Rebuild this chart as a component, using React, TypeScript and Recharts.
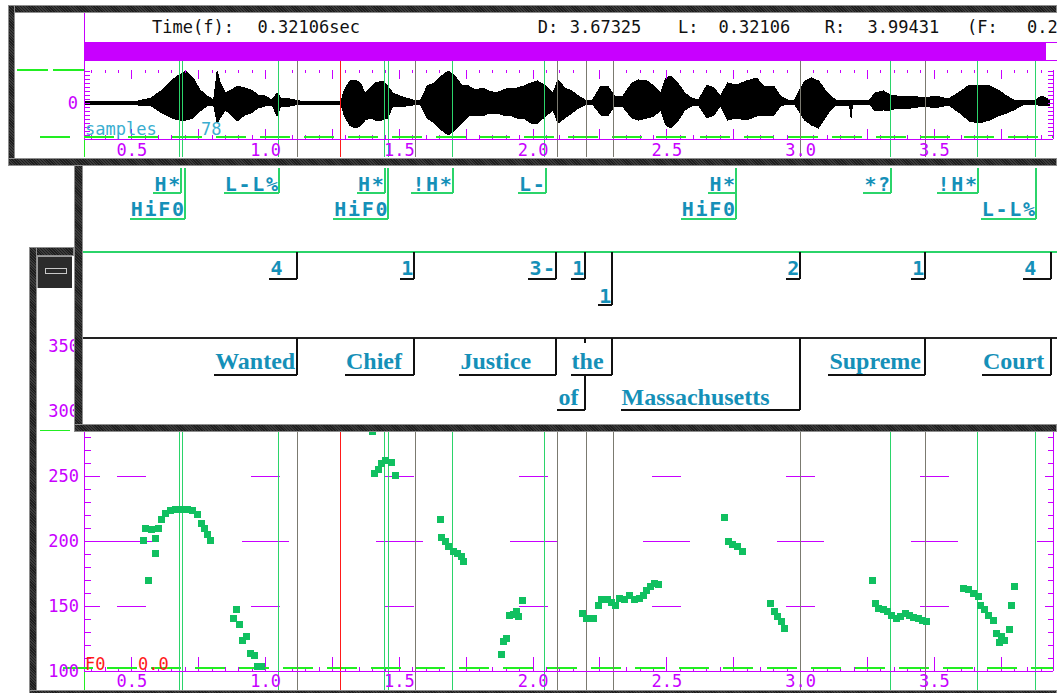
import {
  Area,
  ComposedChart,
  ReferenceLine,
  Scatter,
  ScatterChart,
  XAxis,
  YAxis,
} from 'recharts';

const MONO = "'DejaVu Sans Mono', 'Liberation Mono', monospace";
const SERIF = "'Liberation Serif', 'DejaVu Serif', serif";
const MAGENTA = '#c800ff';
const MARK_GREEN = '#2bd46a';
const DASH_GREEN = '#22ee22';
const GREY = '#7b7a70';
const RED = '#ff1a1a';
const TEAL = '#1590b8';
const DOT_GREEN = '#10c060';
const FRAME = '#2b2b2b';

// shared time window (all three panels use the same pixel mapping)
const W = 1057;
const PLOT_L = 84;
const PLOT_R = 1053;
const PX_PER_S = 267.5;
const T_LEFT = 0.32106;
const T_RIGHT = T_LEFT + (PLOT_R - PLOT_L) / PX_PER_S;
const px = (n: number) => n / PX_PER_S;

const F0_AXIS_Y = 671.2;
const F0_PX_PER_HZ = 1.3;
const F0_TOP = 400;
const F0_LINE_END = 100 - (690 - F0_AXIS_Y) / F0_PX_PER_HZ;
const hz = (n: number) => n / F0_PX_PER_HZ;

const range = (from: number, to: number, step: number) => {
  const out: number[] = [];
  for (let v = from; v <= to + 1e-9; v += step) out.push(+v.toFixed(3));
  return out;
};

// axis ticks
const timeTicks = [0.5, 1.0, 1.5, 2.0, 2.5, 3.0, 3.5];
const minorTimeTicks = range(0.35, 3.9, 0.05);
const majorTimeTicks = range(0.5, 3.75, 0.25);
const f0Ticks = [100, 150, 200, 250, 300, 350];
const f0Minor = range(100, 400, 10);
const f0Fifty = range(100, 400, 50);
const f0Hundred = [100, 200, 300, 400];
const f0GridRows = [150, 200, 250, 300, 350];
const ampTicks = range(-32, 32, 4);

// waveform envelope (upper / lower excursion)
const waveTimes = [
  0.321, 0.523, 0.572, 0.613, 0.65, 0.676, 0.703, 0.729, 0.755, 0.781,
  0.806, 0.819, 0.83, 0.85, 0.871, 0.896, 0.921, 0.946, 0.972, 0.998,
  1.024, 1.043, 1.057, 1.092, 1.129, 1.282, 1.294, 1.314, 1.334, 1.354,
  1.372, 1.391, 1.41, 1.436, 1.456, 1.476, 1.501, 1.526, 1.552, 1.578,
  1.604, 1.63, 1.657, 1.682, 1.707, 1.733, 1.759, 1.784, 1.81, 1.836,
  1.862, 1.888, 1.913, 1.939, 1.965, 1.991, 2.016, 2.048, 2.074, 2.093,
  2.119, 2.145, 2.17, 2.195, 2.222, 2.253, 2.279, 2.304, 2.336, 2.369,
  2.394, 2.426, 2.452, 2.477, 2.496, 2.516, 2.541, 2.567, 2.592, 2.618,
  2.65, 2.676, 2.7, 2.727, 2.76, 2.798, 2.836, 2.861, 2.9, 2.925,
  2.951, 2.977, 3.015, 3.041, 3.067, 3.092, 3.112, 3.131, 3.183, 3.189,
  3.194, 3.258, 3.278, 3.31, 3.336, 3.361, 3.413, 3.463, 3.502, 3.553,
  3.605, 3.63, 3.669, 3.707, 3.739, 3.77, 3.797, 3.836, 3.874, 3.9,
  3.932,
];
const waveHigh = [
  2, 2, 5, 13, 23, 28, 32, 25, 13, 7,
  3, 32, 20, 10, 13, 17, 15, 13, 8, 7,
  3, 10, 5, 4, 2, 2, 13, 22, 23, 20,
  10, 15, 20, 22, 17, 10, 7, 5, 3, 2,
  17, 20, 27, 32, 27, 18, 17, 13, 15, 12,
  10, 13, 15, 15, 17, 20, 22, 17, 10, 23,
  15, 12, 7, 3, 3, 17, 17, 7, 7, 20,
  23, 22, 17, 10, 25, 27, 20, 10, 5, 3,
  18, 15, 7, 20, 18, 22, 25, 17, 17, 7,
  3, 3, 22, 25, 22, 13, 7, 3, 3, 3,
  3, 3, 10, 12, 8, 7, 7, 5, 7, 4,
  13, 18, 18, 17, 13, 7, 3, 3, 2, 7,
  3,
];
const waveLow = [
  -1, -2, -3, -10, -15, -17, -17, -15, -8, -3,
  -2, -20, -15, -7, -12, -18, -12, -10, -5, -3,
  -2, -13, -3, -3, -1, -1, -13, -22, -25, -23,
  -17, -15, -17, -17, -15, -3, -3, -3, -2, -1,
  -15, -20, -27, -32, -27, -20, -13, -12, -13, -10,
  -10, -12, -12, -15, -15, -20, -20, -13, -7, -20,
  -15, -10, -5, -2, -1, -12, -13, -3, -4, -15,
  -17, -15, -13, -7, -22, -25, -18, -7, -3, -2,
  -15, -12, -3, -17, -15, -17, -13, -12, -12, -3,
  -1, -1, -17, -22, -25, -15, -7, -2, -2, -15,
  -1, -1, -8, -7, -7, -5, -5, -3, -5, -2,
  -12, -18, -20, -17, -13, -10, -7, -1, -1, -3,
  -2,
];

// pitch track (Hz)
const f0Times = [
  0.545, 0.561, 0.552, 0.573, 0.587, 0.59, 0.599, 0.612, 0.625, 0.644, 0.664, 0.683, 0.709, 0.728, 0.747, 0.76, 0.773, 0.783, 0.795,
  0.89, 0.88, 0.902, 0.915, 0.927, 0.943, 0.957, 0.97, 0.985,
  1.401, 1.408, 1.421, 1.433, 1.449, 1.472, 1.485,
  1.652, 1.659, 1.671, 1.684, 1.704, 1.719, 1.732, 1.741,
  1.88, 1.89, 1.899, 1.91, 1.928, 1.938, 1.945, 1.96,
  2.184, 2.201, 2.226, 2.243, 2.256, 2.277, 2.294, 2.307, 2.322, 2.342, 2.361, 2.38, 2.397, 2.412, 2.425, 2.438, 2.453, 2.47,
  2.717, 2.729, 2.745, 2.764, 2.781,
  2.888, 2.901, 2.914, 2.927, 2.939,
  3.267, 3.28, 3.293, 3.308, 3.323, 3.34, 3.357, 3.372, 3.391, 3.408, 3.423, 3.44, 3.455, 3.472,
  3.608, 3.627, 3.646, 3.664, 3.673, 3.689, 3.702, 3.72, 3.733, 3.752, 3.743, 3.764, 3.78, 3.789, 3.799,
];
const f0Values = [
  200.4, 169.6, 209.9, 209.2, 190.7, 201.7, 209.9, 216.8, 221.5, 223.5, 224.5, 224.5, 224.5, 224, 220.2, 213.8, 209.9, 205.3, 200.4,
  147.8, 140.2, 136.1, 124.0, 126.5, 113.8, 111.9, 103.5, 104.0,
  284.2, 252.2, 255.3, 259.4, 261.7, 260.7, 250.9,
  216.8, 202.7, 199.6, 195.8, 191.9, 190.7, 188.1, 184.2,
  112.5, 122.7, 125.3, 143.2, 143.8, 145.8, 141.9, 154.2,
  144.5, 140.7, 140.2, 150.2, 154.8, 154.8, 152.7, 150.2, 156.1, 155.3, 158.6, 154.8, 156.1, 158.6, 161.9, 165.0, 167.6, 166.8,
  218.1, 199.6, 197.8, 195.8, 191.9,
  152.2, 145.8, 141.9, 138.1, 132.5,
  169.6, 152.2, 148.4, 147.1, 145.8, 143.2, 140.7, 141.9, 144.5, 142.5, 141.5, 140.2, 138.8, 138.1,
  163.8, 162.5, 159.9, 157.3, 150.9, 147.1, 143.2, 138.8, 129.2, 126.5, 122.2, 124.0, 132.2, 150.2, 165.5,
];

// label tiers: time of label end, text, stacking line inside the tier
const toneTimes = [0.6837, 0.6986, 1.05, 1.4448, 1.459, 1.6997, 2.047, 2.7584, 2.7584, 3.3378, 3.663, 3.8799];
const toneLabels = ['H*', 'HiF0', 'L-L%', 'H*', 'HiF0', '!H*', 'L-', 'H*', 'HiF0', '*?', '!H*', 'L-L%'];
const toneRows = [0, 1, 0, 0, 1, 0, 0, 0, 1, 0, 0, 1];

const breakTimes = [1.1173, 1.5547, 2.0855, 2.1939, 2.2948, 2.9976, 3.4649, 3.9359];
const breakLabels = ['4 ', '1', '3-', '1', '1', '2', '1', '4 '];
const breakRows = [0, 0, 0, 0, 1, 0, 0, 0];

const wordTimes = [1.1173, 1.5547, 2.0855, 2.1939, 2.2948, 2.9976, 3.4649, 3.9359];
const wordLabels = ['Wanted', 'Chief', 'Justice', 'of', 'the', 'Massachusetts', 'Supreme', 'Court'];
const wordRows = [0, 0, 0, 1, 0, 1, 0, 0];

// marker lines drawn through the signal panels
const toneMarks = [0.678, 0.6911, 1.05, 1.4437, 1.4601, 1.6983, 2.0437, 3.3378, 3.663, 3.8799];
const wordMarks = [1.1192, 1.5585, 2.0893, 2.1977, 2.2987, 3.0013, 3.4686];
const cursorTime = 1.2818;

const fmtTime = (v: number) => v.toFixed(1);
const labelTick = { fill: MAGENTA, fontSize: 17, fontFamily: MONO };

const Frame = ({ x, y, w, h }: { x: number; y: number; w: number; h: number }) => (
  <div
    style={{
      position: 'absolute',
      left: x,
      top: y,
      width: w,
      height: h,
      background: FRAME,
      backgroundImage: 'repeating-linear-gradient(45deg, #3b3b3b 0 1px, #1e1e1e 1px 2px)',
      boxShadow: 'inset 0 0 0 1px #8e8e8e',
    }}
  />
);

const seg = (key: string, x0: number, y0: number, x1: number, y1: number, color: string, extra: any = {}) => (
  <ReferenceLine key={key} segment={[{ x: x0, y: y0 }, { x: x1, y: y1 }]} stroke={color} ifOverflow="visible" {...extra} />
);

// vertical tick marks along a time axis, horizontal ones along a value axis
const vTicks = (id: string, ticks: number[], y0: number, y1: number) =>
  ticks.map((t) => seg(`${id}${t}`, t, y0, t, y1, MAGENTA));
const hTicks = (id: string, values: number[], x0: number, x1: number) =>
  values.map((v) => seg(`${id}${v}`, x0, v, x1, v, MAGENTA));

const markerLines = (top: number, bottom: number) => [
  ...toneMarks.map((t) => seg(`g${t}`, t, top, t, bottom, MARK_GREEN)),
  ...wordMarks.map((t) => seg(`w${t}`, t, top, t, bottom, GREY)),
  seg('cursor', cursorTime, top, cursorTime, bottom, RED),
];

function WaveformWindow() {
  const rows = waveTimes.map((t, i) => ({ t, hi: waveHigh[i], lo: waveLow[i] }));
  const bottom = -36;
  const top = 33;

  return (
    <div style={{ position: 'absolute', left: 0, top: 0, width: W, height: 166 }}>
      <div style={{ position: 'absolute', left: 15, top: 13, width: W - 15, height: 145, background: '#fff' }} />
      <div style={{ position: 'absolute', left: 0, top: 0 }}>
        <ComposedChart width={W} height={165} data={rows} margin={{ top: 70, right: W - PLOT_R, bottom: 0, left: 0 }}>
          <XAxis
            dataKey="t"
            type="number"
            domain={[T_LEFT, T_RIGHT]}
            allowDataOverflow
            interval={0}
            ticks={timeTicks}
            tickFormatter={fmtTime}
            tickLine={false}
            tickSize={0}
            tickMargin={5}
            axisLine={{ stroke: MAGENTA }}
            tick={labelTick}
            height={26}
          />
          <YAxis
            type="number"
            domain={[bottom, top]}
            allowDataOverflow
            interval={0}
            ticks={[0]}
            width={PLOT_L}
            tickLine={false}
            axisLine={false}
            tickSize={0}
            tickMargin={6}
            tick={labelTick}
          />
          <Area dataKey="hi" baseValue={0} type="linear" stroke="#000" fill="#000" fillOpacity={1} isAnimationActive={false} activeDot={false} />
          <Area dataKey="lo" baseValue={0} type="linear" stroke="#000" fill="#000" fillOpacity={1} isAnimationActive={false} activeDot={false} />

          {/* rulers and ticks */}
          {seg('axl', T_LEFT, bottom, T_LEFT, top, MAGENTA)}
          {seg('axr', T_RIGHT, bottom, T_RIGHT, top, MAGENTA)}
          {hTicks('rl', ampTicks, T_LEFT, T_LEFT + px(6))}
          {hTicks('rr', ampTicks, T_RIGHT - px(5), T_RIGHT)}
          {vTicks('bm', minorTimeTicks, bottom, bottom + 4)}
          {vTicks('bM', majorTimeTicks, bottom, bottom + 10)}
          {vTicks('tm', minorTimeTicks, top, top - 3)}
          {vTicks('tM', majorTimeTicks, top, top - 9)}

          {seg('gb', T_LEFT - px(44), -34, T_RIGHT, -34, DASH_GREEN, { strokeDasharray: '30 14', strokeWidth: 1.5 })}
          {seg('gt', T_LEFT - px(67), top, T_LEFT, top, DASH_GREEN, { strokeDasharray: '31 5', strokeWidth: 1.5 })}
          {seg('gv', T_LEFT, bottom, T_LEFT, -54, DASH_GREEN)}
          {markerLines(43, -54)}
        </ComposedChart>
      </div>
      <svg width={W} height={166} style={{ position: 'absolute', left: 0, top: 0 }}>
        <line x1={84} y1={13} x2={84} y2={70} stroke={MAGENTA} />
        <rect x={84} y={42} width={W - 84} height={18} fill="none" stroke={MAGENTA} />
        <rect x={84} y={42} width={962} height={18} fill={MAGENTA} />
        <g fontFamily={MONO} fontSize={17} fill="#111">
          <text x={152} y={33}>Time(f):</text>
          <text x={257.6} y={33}>0.32106sec</text>
          <text x={537.8} y={33}>D:</text>
          <text x={569.7} y={33}>3.67325</text>
          <text x={678} y={33}>L:</text>
          <text x={718.6} y={33}>0.32106</text>
          <text x={824.8} y={33}>R:</text>
          <text x={867.6} y={33}>3.99431</text>
          <text x={967} y={33}>(F:</text>
          <text x={1027} y={33}>0.2</text>
        </g>
        <g fontFamily={MONO} fontSize={17} fill="#3aaed0">
          <text x={85} y={135}>samples</text>
          <text x={201} y={135}>78</text>
        </g>
      </svg>
      <Frame x={8} y={5} w={W - 8} h={8} />
      <Frame x={8} y={5} w={7} h={161} />
      <Frame x={8} y={158} w={W - 8} h={8} />
    </div>
  );
}

type TierLook = {
  font: string;
  size: number;
  spacing: number;
  bracket: string;
  top: number;
  base: number[];
  under: number[];
  mask: number;
};

const CHAR_W = 13.8;

const toneLook: TierLook = { font: MONO, size: 20, spacing: 1.7, bracket: MARK_GREEN, top: 2, base: [24.5, 49.5], under: [27, 53], mask: 0 };
const breakLook: TierLook = { font: MONO, size: 20, spacing: 1.7, bracket: '#111', top: 0, base: [23, 51], under: [27, 53], mask: 0 };
const wordLook: TierLook = { font: SERIF, size: 24, spacing: 0, bracket: '#111', top: 0, base: [31, 67], under: [37, 72], mask: 32 };

const tierShape = (look: TierLook) => (props: any) => {
  const { cx, cy, payload } = props;
  const w = payload.text.length * CHAR_W;
  const x0 = cx - w;
  const under = cy + look.under[payload.row];
  return (
    <g>
      {look.mask > 0 && <rect x={x0} y={under - look.mask} width={w - 1} height={look.mask - 1} fill="#fff" />}
      <text
        x={x0 + 1}
        y={cy + look.base[payload.row]}
        fill={TEAL}
        fontFamily={look.font}
        fontSize={look.size}
        fontWeight={700}
        style={{ letterSpacing: `${look.spacing}px` }}
      >
        {payload.text}
      </text>
      <line x1={cx} y1={cy + look.top} x2={cx} y2={under} stroke={look.bracket} strokeWidth={2} />
      <line x1={x0} y1={under} x2={cx} y2={under} stroke={look.bracket} strokeWidth={2} />
    </g>
  );
};

const toTier = (times: number[], labels: string[], rows: number[], tier: number) =>
  times.map((t, i) => ({ t, tier, text: labels[i], row: rows[i] }));

function LabelWindow() {
  const tones = toTier(toneTimes, toneLabels, toneRows, 0);
  const breaks = toTier(breakTimes, breakLabels, breakRows, 1);
  const words = toTier(wordTimes, wordLabels, wordRows, 2);

  return (
    <div style={{ position: 'absolute', left: 0, top: 0, width: W, height: 433 }}>
      <div style={{ position: 'absolute', left: 83, top: 160, width: W - 83, height: 264, background: '#fff' }} />
      <div style={{ position: 'absolute', left: 0, top: 166 }}>
        <ScatterChart width={W} height={258} margin={{ top: 0, right: W - PLOT_R, bottom: 0, left: PLOT_L }}>
          <XAxis dataKey="t" type="number" domain={[T_LEFT, T_RIGHT]} allowDataOverflow hide />
          <YAxis dataKey="tier" type="number" domain={[0, 3]} allowDataOverflow reversed hide />
          {seg('sep1', T_LEFT - px(1), 1, T_RIGHT + px(4), 1, MARK_GREEN, { strokeWidth: 2 })}
          {seg('sep2', T_LEFT - px(1), 2, T_RIGHT + px(4), 2, '#222', { strokeWidth: 2 })}
          <Scatter data={tones} shape={tierShape(toneLook)} isAnimationActive={false} />
          <Scatter data={breaks} shape={tierShape(breakLook)} isAnimationActive={false} />
          <Scatter data={words} shape={tierShape(wordLook)} isAnimationActive={false} />
        </ScatterChart>
      </div>
      <Frame x={74} y={160} w={9} h={272} />
      <Frame x={74} y={424} w={W - 74} h={8} />
    </div>
  );
}

const F0Dot = (props: any) => (
  <rect x={props.cx - 3.5} y={props.cy - 3.5} width={7} height={7} fill={DOT_GREEN} />
);

function PitchWindow() {
  const points = f0Times.map((t, i) => ({ t, f0: f0Values[i] }));
  const plotTop = F0_AXIS_Y - (F0_TOP - 100) * F0_PX_PER_HZ;

  return (
    <div style={{ position: 'absolute', left: 0, top: 0, width: W, height: 693 }}>
      <div style={{ position: 'absolute', left: 37, top: 256, width: W - 37, height: 434, background: '#fff' }} />
      <div style={{ position: 'absolute', left: 0, top: 0 }}>
        <ScatterChart width={W} height={700} margin={{ top: plotTop, right: W - PLOT_R, bottom: 0, left: 0 }}>
          <XAxis
            dataKey="t"
            type="number"
            domain={[T_LEFT, T_RIGHT]}
            allowDataOverflow
            interval={0}
            ticks={timeTicks}
            tickFormatter={fmtTime}
            tickLine={false}
            tickSize={0}
            tickMargin={4}
            axisLine={{ stroke: MAGENTA }}
            tick={labelTick}
            height={700 - F0_AXIS_Y}
          />
          <YAxis
            dataKey="f0"
            type="number"
            domain={[100, F0_TOP]}
            allowDataOverflow
            interval={0}
            ticks={f0Ticks}
            width={PLOT_L}
            tickLine={false}
            axisLine={false}
            tickSize={0}
            tickMargin={5}
            tick={labelTick}
          />

          {/* axes drawn as tick segments */}
          {seg('axl', T_LEFT, 100, T_LEFT, F0_TOP, MAGENTA)}
          {seg('axr', T_RIGHT, 100, T_RIGHT, F0_TOP, MAGENTA)}
          {hTicks('l10', f0Minor, T_LEFT, T_LEFT + px(7))}
          {hTicks('l50', f0Fifty, T_LEFT, T_LEFT + px(16))}
          {hTicks('l100', [200, 300], T_LEFT, T_LEFT + px(25))}
          {hTicks('r10', f0Minor, T_RIGHT - px(5), T_RIGHT)}
          {hTicks('r50', f0Fifty, T_RIGHT - px(8), T_RIGHT)}
          {hTicks('r100', f0Hundred, T_RIGHT - px(16), T_RIGHT)}
          {vTicks('bm', minorTimeTicks, 100, 100 + hz(4))}
          {vTicks('bM', majorTimeTicks, 100, 100 + hz(14))}

          {f0GridRows.flatMap((f) =>
            timeTicks.map((t) => {
              const hw = px(f % 100 === 0 ? 23.5 : 14.5);
              return seg(`c${f}-${t}`, t - hw, f, t + hw, f, MAGENTA);
            }),
          )}
          {seg('g100', T_LEFT - px(21), 100 + hz(3), T_RIGHT, 100 + hz(3), DASH_GREEN, { strokeDasharray: '30 14', strokeWidth: 1.5 })}
          {seg('gv', T_LEFT, 100, T_LEFT, F0_LINE_END, DASH_GREEN)}
          {markerLines(F0_TOP, F0_LINE_END)}
          <Scatter data={points} shape={F0Dot} isAnimationActive={false} />
        </ScatterChart>
      </div>
      <svg width={W} height={693} style={{ position: 'absolute', left: 0, top: 0 }}>
        <line x1={40} y1={430.5} x2={70} y2={430.5} stroke={DASH_GREEN} />
        <g fontFamily={MONO} fontSize={17} fill={RED}>
          <text x={85} y={670}>F0</text>
          <text x={138} y={670}>0.0</text>
        </g>
      </svg>
      <Frame x={29} y={247} w={45} h={9} />
      <Frame x={29} y={247} w={8} h={446} />
      <div style={{ position: 'absolute', left: 37, top: 256, width: 35, height: 32, background: FRAME, boxShadow: 'inset 1px 1px 0 #9a9a9a' }} />
      <div style={{ position: 'absolute', left: 45, top: 268, width: 20, height: 4, border: '1px solid #c8c8c8' }} />
      <Frame x={29} y={690} w={W - 29} h={6} />
    </div>
  );
}

export default function App() {
  return (
    <div style={{ position: 'absolute', left: 0, top: 0, width: W, height: 693, overflow: 'hidden', background: '#fff' }}>
      <style>{'.scr line, .scr rect, .scr path { shape-rendering: crispEdges; }'}</style>
      <div className="scr">
        <PitchWindow />
        <LabelWindow />
        <WaveformWindow />
      </div>
    </div>
  );
}
